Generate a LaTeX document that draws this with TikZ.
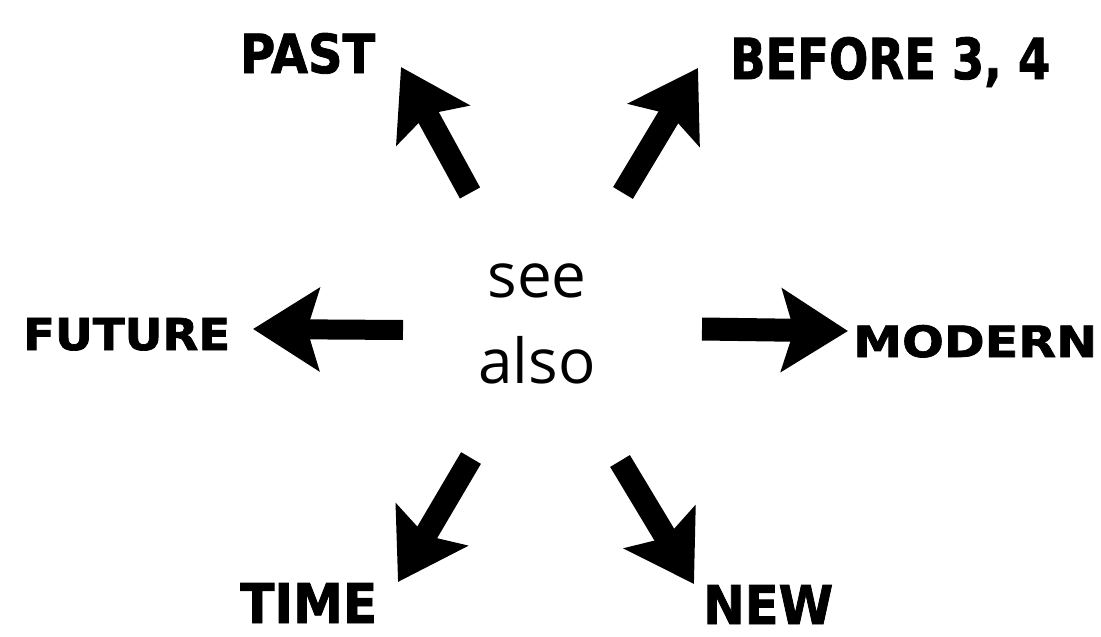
\documentclass[tikz,border=0pt]{standalone}
\usepackage{fontspec}
\usepackage{graphicx}
\usetikzlibrary{arrows.meta}
\newfontfamily\seefont{Open Sans}
\newfontfamily\lblfont{DejaVu Sans Bold}[FakeBold=1.5]
\newcommand\fitlbl[3]{\resizebox{#1pt}{#2pt}{\lblfont #3}}
\tikzset{
  lbl/.style={inner sep=0pt, anchor=base west},
  fatarrow/.style={draw=black, line width=23pt,
    -{Stealth[length=66pt,width=82pt,inset=12pt]}},
  seetext/.style={align=center, inner sep=0pt,
    font=\seefont\fontsize{62}{86}\selectfont}
}
\begin{document}
\begin{tikzpicture}[x=1pt,y=-1pt]
\fill[white] (0,0) rectangle (1101,637);
\useasboundingbox (0,0) rectangle (1101,637);
% centre
\node[seetext, anchor=base] (see) at (537,383) {see\\also};
% labels
\node[lbl] (past) at (240,73) {\fitlbl{135}{40}{PAST}};
\node[lbl] (before) at (730,79) {\fitlbl{320}{42}{BEFORE 3, 4}};
\node[lbl] (future) at (23,350) {\fitlbl{207}{32}{FUTURE}};
\node[lbl] (modern) at (853,357) {\fitlbl{244}{32}{MODERN}};
\node[lbl] (time) at (240,623) {\fitlbl{137}{40}{TIME}};
\node[lbl] (new) at (703,624) {\fitlbl{130}{39}{NEW}};
% arrow ends
\coordinate (pastT) at (470,193);
\coordinate (pastH) at (401,67);
\coordinate (befT) at (623,193);
\coordinate (befH) at (698,68);
\coordinate (futT) at (403,330);
\coordinate (futH) at (253,329);
\coordinate (modT) at (702,329);
\coordinate (modH) at (848,331);
\coordinate (timT) at (471,458);
\coordinate (timH) at (398,582);
\coordinate (newT) at (620,461);
\coordinate (newH) at (694,584);
% arrows
\draw[fatarrow] (pastT) -- (pastH);
\draw[fatarrow] (befT) -- (befH);
\draw[fatarrow, line width=20pt] (futT) -- (futH);
\draw[fatarrow] (modT) -- (modH);
\draw[fatarrow] (timT) -- (timH);
\draw[fatarrow] (newT) -- (newH);
\end{tikzpicture}
\end{document}
